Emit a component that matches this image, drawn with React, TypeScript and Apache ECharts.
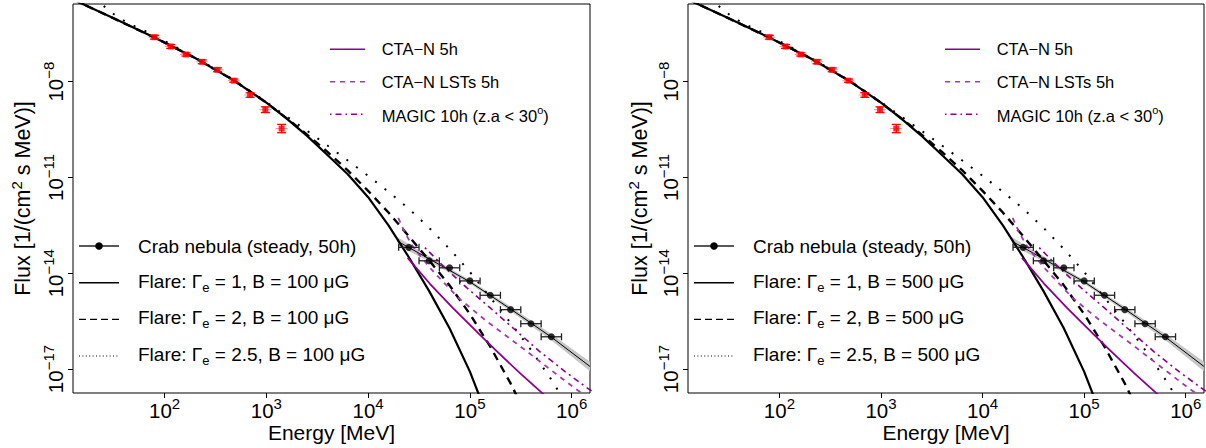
import React, { useEffect, useRef } from "react";
import * as echarts from "echarts";

const FONT = "'Liberation Sans', Arial, Helvetica, sans-serif";

// Axes are log10(E / MeV) and log10(flux)
const xTickExps = [2, 3, 4, 5, 6];
const yTickExps = [-17, -14, -11, -8];
const panelB = ["100", "500"];

// Fermi-LAT points (red)
const fermiLogE = [1.90, 2.06, 2.21, 2.37, 2.52, 2.68, 2.84, 2.99, 3.15];
const fermiLogF = [-6.61, -6.90, -7.15, -7.38, -7.63, -7.97, -8.42, -8.88, -9.47];
const fermiErr = [0.06, 0.06, 0.05, 0.06, 0.06, 0.05, 0.07, 0.09, 0.13];

// Crab nebula (steady, 50h)
const crabLogE = [4.4, 4.6, 4.8, 5.0, 5.2, 5.4, 5.6, 5.8];
const crabLogF = [-13.19, -13.61, -13.83, -14.24, -14.69, -15.14, -15.58, -15.99];
const crabBinHalf = [0.1, 0.1, 0.1, 0.1, 0.1, 0.1, 0.1, 0.1];

// Crab spectrum line with uncertainty band
const bandLogE = [4.29, 4.6, 5.0, 5.4, 5.8, 6.18];
const bandLogF = [-13.0, -13.55, -14.27, -15.12, -16.0, -16.92];
const bandHalf = [0.13, 0.08, 0.06, 0.07, 0.1, 0.15];

// Flare: Gamma_e = 1 (solid)
const flare1LogE = [1.10, 1.20, 1.50, 1.90, 2.30, 2.68, 3.00, 3.20, 3.40, 3.60, 3.80, 4.00, 4.20, 4.40, 4.60, 4.80, 5.00, 5.10];
const flare1LogF = [-5.43, -5.575, -6.02, -6.62, -7.26, -7.96, -8.66, -9.16, -9.70, -10.30, -10.90, -11.62, -12.50, -13.50, -14.56, -15.72, -17.08, -17.90];

// Flare: Gamma_e = 2 (dashed)
const flare2LogE = [1.10, 1.20, 1.50, 1.90, 2.30, 2.68, 3.00, 3.20, 3.40, 3.60, 3.80, 4.00, 4.20, 4.40, 4.60, 4.80, 5.00, 5.20, 5.40, 5.50];
const flare2LogF = [-5.43, -5.575, -6.02, -6.62, -7.26, -7.96, -8.66, -9.15, -9.66, -10.20, -10.78, -11.42, -12.10, -12.84, -13.60, -14.38, -15.28, -16.30, -17.45, -18.10];

// Flare: Gamma_e = 2.5 (dotted)
const flare25LogE = [1.30, 1.367, 1.41, 1.51, 1.64, 1.787, 2.0, 2.30, 2.68, 3.00, 3.15, 3.40, 3.60, 3.80, 4.00, 4.20, 4.40, 4.60, 4.80, 5.00, 5.20, 5.40, 5.60, 5.80, 5.95];
const flare25LogF = [-5.44, -5.569, -5.653, -5.913, -6.173, -6.382, -6.73, -7.24, -7.95, -8.64, -8.98, -9.54, -10.00, -10.47, -10.95, -11.45, -11.98, -12.58, -13.24, -13.96, -14.76, -15.55, -16.40, -17.33, -18.10];

// Sensitivities
const ctaLogE = [4.388, 4.607, 4.836, 5.099, 5.263, 5.492, 5.705, 5.80];
const ctaLogF = [-13.52, -14.33, -15.10, -15.93, -16.44, -17.13, -17.74, -18.0];
const lstsLogE = [4.296, 4.362, 4.428, 4.509, 4.624, 4.886, 5.148, 5.475, 5.804, 6.030, 6.20];
const lstsLogF = [-12.27, -12.73, -13.11, -13.45, -13.89, -14.77, -15.46, -16.24, -17.05, -17.60, -17.98];
const magicLogE = [4.558, 4.755, 4.971, 5.197, 5.443, 5.689, 5.935, 6.147, 6.28];
const magicLogF = [-13.20, -13.83, -14.46, -15.08, -15.77, -16.46, -17.08, -17.58, -17.87];

const PURPLE = "#8b008b";
const PURPLE2 = "#a43ab0";

const pairs = (xs: number[], ys: number[]) => xs.map((x, i) => [x, ys[i]]);

const supRich = (base: number, sup: number, lh: number) => ({
  b: { fontSize: base, fontFamily: FONT, color: "#000", lineHeight: lh, verticalAlign: "bottom" },
  s: { fontSize: sup, fontFamily: FONT, color: "#000", lineHeight: 8, verticalAlign: "top" },
});

function buildOption() {
  const grids = [
    { left: 73, top: 4, width: 517, height: 389 },
    { left: 688, top: 4, width: 516, height: 389 },
  ];
  const xAxes: any[] = [];
  const yAxes: any[] = [];
  const series: any[] = [];
  const graphic: any[] = [];

  grids.forEach((g, gi) => {
    xAxes.push({
      type: "value", gridIndex: gi, min: 1.10, max: 6.18,
      axisLine: { show: false }, splitLine: { show: false },
      axisTick: { show: true, inside: false, length: 5, customValues: xTickExps, lineStyle: { color: "#000", width: 1 } },
      axisLabel: {
        show: true, customValues: xTickExps, margin: 3,
        formatter: (v: number) => `{b|10}{s|${v}}`,
        rich: supRich(20.5, 15, 25),
      },
    });
    yAxes.push({
      type: "value", gridIndex: gi, min: -17.75, max: -5.57,
      axisLine: { show: false }, splitLine: { show: false },
      axisTick: { show: true, inside: false, length: 5, customValues: yTickExps, lineStyle: { color: "#000", width: 1 } },
      axisLabel: {
        show: true, customValues: yTickExps, margin: 7, rotate: 90,
        formatter: (v: number) => `{b|10}{s|\u2212${Math.abs(v)}}`,
        rich: supRich(20.5, 15, 25),
      },
    });

    const ax = { xAxisIndex: gi, yAxisIndex: gi };
    const lineS = (data: number[][], color: string, width: number, type: any, z: number) => ({
      type: "line", ...ax, data, symbol: "none", clip: true, z,
      lineStyle: { color, width, type, cap: "butt", join: "round" },
      silent: true,
    });

    series.push({
      type: "custom", ...ax, z: 1, silent: true,
      data: bandLogE.map((e, i) => [e, bandLogF[i], bandHalf[i]]),
      renderItem: (params: any, api: any) => {
        if (params.dataIndex !== 0) return null;
        const pts: number[][] = [];
        for (let i = 0; i < bandLogE.length; i++) pts.push(api.coord([bandLogE[i], bandLogF[i] + bandHalf[i]]));
        for (let i = bandLogE.length - 1; i >= 0; i--) pts.push(api.coord([bandLogE[i], bandLogF[i] - bandHalf[i]]));
        return { type: "polygon", shape: { points: pts }, style: { fill: "#c6c6c6" } };
      },
    });
    series.push(lineS(pairs(bandLogE, bandLogF), "#000", 1, "solid", 2));
    series.push(lineS(pairs(flare1LogE, flare1LogF), "#000", 2.2, "solid", 3));
    series.push(lineS(pairs(flare2LogE, flare2LogF), "#000", 2.4, [8, 6], 3));
    series.push(lineS(pairs(flare25LogE, flare25LogF), "#000", 2, [2, 10], 3));
    series.push(lineS(pairs(ctaLogE, ctaLogF), PURPLE, 1.8, "solid", 3));
    series.push(lineS(pairs(lstsLogE, lstsLogF), PURPLE2, 1.8, [5, 5], 3));
    series.push(lineS(pairs(magicLogE, magicLogF), PURPLE, 1.6, [2, 4, 6, 4], 3));

    series.push({
      type: "custom", ...ax, z: 4, silent: true,
      data: crabLogE.map((e, i) => [e, crabLogF[i], crabBinHalf[i]]),
      renderItem: (params: any, api: any) => {
        const x = api.value(0), y = api.value(1), h = api.value(2);
        const a = api.coord([x - h, y]);
        const b = api.coord([x + h, y]);
        const st = { stroke: "#222", lineWidth: 1.3 };
        return {
          type: "group", children: [
            { type: "line", shape: { x1: a[0], y1: a[1], x2: b[0], y2: b[1] }, style: st },
            { type: "line", shape: { x1: a[0], y1: a[1] - 3.5, x2: a[0], y2: a[1] + 3.5 }, style: st },
            { type: "line", shape: { x1: b[0], y1: b[1] - 3.5, x2: b[0], y2: b[1] + 3.5 }, style: st },
          ],
        };
      },
    });
    series.push({
      type: "scatter", ...ax, z: 5, silent: true, symbol: "circle", symbolSize: 7,
      itemStyle: { color: "#000" }, data: pairs(crabLogE, crabLogF),
    });
    series.push({
      type: "custom", ...ax, z: 4, silent: true,
      data: fermiLogE.map((e, i) => [e, fermiLogF[i], fermiErr[i]]),
      renderItem: (params: any, api: any) => {
        const x = api.value(0), y = api.value(1), er = api.value(2);
        const t = api.coord([x, y + er]);
        const b = api.coord([x, y - er]);
        const c = api.coord([x, y]);
        const st = { stroke: "#ff0000", lineWidth: 1.3 };
        const w = 4.5;
        return {
          type: "group", children: [
            { type: "line", shape: { x1: c[0] - 6, y1: c[1], x2: c[0] + 6, y2: c[1] }, style: { stroke: "rgba(255,0,0,0.45)", lineWidth: 1 } },
            { type: "line", shape: { x1: t[0], y1: t[1], x2: b[0], y2: b[1] }, style: st },
            { type: "line", shape: { x1: t[0] - w, y1: t[1], x2: t[0] + w, y2: t[1] }, style: st },
            { type: "line", shape: { x1: b[0] - w, y1: b[1], x2: b[0] + w, y2: b[1] }, style: st },
          ],
        };
      },
    });
    series.push({
      type: "scatter", ...ax, z: 5, silent: true, symbol: "rect", symbolSize: 6,
      itemStyle: { color: "#ff0000" }, data: pairs(fermiLogE, fermiLogF),
    });

    // Legends and titles
    const dx = gi === 0 ? 0 : 615;
    const lx1 = 79 + dx, lx2 = 119 + dx, tx = 138 + dx;
    const rows = [246, 282.7, 319.3, 356];
    const subRich = {
      n: { fontSize: 19, fontFamily: FONT, color: "#000", lineHeight: 22, verticalAlign: "top" },
      e: { fontSize: 13, fontFamily: FONT, color: "#000", lineHeight: 12, verticalAlign: "bottom" },
    };
    graphic.push(
      { type: "line", shape: { x1: lx1, y1: rows[0], x2: lx2, y2: rows[0] }, style: { stroke: "#222", lineWidth: 1.5 } },
      { type: "circle", shape: { cx: (lx1 + lx2) / 2, cy: rows[0], r: 3.8 }, style: { fill: "#000" } },
      { type: "text", x: tx, y: rows[0], style: { text: "Crab nebula (steady, 50h)", fill: "#000", fontSize: 19, fontFamily: FONT, align: "left", verticalAlign: "middle" } },
      { type: "line", shape: { x1: lx1, y1: rows[1], x2: lx2, y2: rows[1] }, style: { stroke: "#000", lineWidth: 1.4 } },
      { type: "line", shape: { x1: lx1, y1: rows[2], x2: lx2, y2: rows[2] }, style: { stroke: "#000", lineWidth: 1.2, lineDash: [7, 4] } },
      { type: "line", shape: { x1: lx1, y1: rows[3], x2: lx2, y2: rows[3] }, style: { stroke: "#000", lineWidth: 1.1, lineDash: [1, 2.4] } },
    );
    const gammas = ["1", "2", "2.5"];
    gammas.forEach((gm, k) => {
      graphic.push({
        type: "text", x: tx, y: rows[k + 1],
        style: {
          text: `{n|Flare: \u0393}{e|e}{n| = ${gm}, B = ${panelB[gi]} \u03bcG}`,
          rich: subRich, align: "left", verticalAlign: "middle",
        },
      });
    });

    const urows = [49.3, 81.7, 114.3];
    const ux1 = 330 + dx, ux2 = 365 + dx, utx = 381.7 + dx;
    const uRich = {
      n: { fontSize: 16.5, fontFamily: FONT, color: "#000", lineHeight: 20, verticalAlign: "bottom" },
      s: { fontSize: 11, fontFamily: FONT, color: "#000", lineHeight: 10, verticalAlign: "top" },
    };
    graphic.push(
      { type: "line", shape: { x1: ux1, y1: urows[0], x2: ux2, y2: urows[0] }, style: { stroke: PURPLE, lineWidth: 1.6 } },
      { type: "line", shape: { x1: ux1, y1: urows[1], x2: ux2, y2: urows[1] }, style: { stroke: PURPLE2, lineWidth: 1.6, lineDash: [5, 5] } },
      { type: "line", shape: { x1: ux1, y1: urows[2], x2: ux2, y2: urows[2] }, style: { stroke: PURPLE, lineWidth: 1.5, lineDash: [1.5, 4, 6, 4] } },
      { type: "text", x: utx, y: urows[0], style: { text: "CTA\u2212N 5h", fill: "#000", fontSize: 16.5, fontFamily: FONT, align: "left", verticalAlign: "middle" } },
      { type: "text", x: utx, y: urows[1], style: { text: "CTA\u2212N LSTs 5h", fill: "#000", fontSize: 16.5, fontFamily: FONT, align: "left", verticalAlign: "middle" } },
      { type: "text", x: utx, y: urows[2], style: { text: "{n|MAGIC 10h (z.a < 30}{s|o}{n|)}", rich: uRich, align: "left", verticalAlign: "middle" } },
    );

    graphic.push(
      { type: "text", x: g.left + g.width / 2, y: 432, style: { text: "Energy [MeV]", fill: "#000", fontSize: 21, fontFamily: FONT, align: "center", verticalAlign: "middle" } },
      {
        type: "text", x: gi === 0 ? 21 : 638, y: g.top + g.height / 2, rotation: Math.PI / 2,
        style: { text: "{b|Flux [1/(cm}{s|2}{b| s MeV)]}", rich: supRich(21.5, 15, 25), align: "center", verticalAlign: "middle" },
      },
    );
  });

  return {
    animation: false,
    backgroundColor: "#fff",
    grid: grids.map((g) => ({ ...g, show: true, borderColor: "#000", borderWidth: 1, backgroundColor: "transparent" })),
    xAxis: xAxes,
    yAxis: yAxes,
    series,
    graphic,
  };
}

export default function App() {
  const ref = useRef<HTMLDivElement>(null);
  useEffect(() => {
    const chart = echarts.init(ref.current!, null, { renderer: "svg" });
    chart.setOption(buildOption() as any);
    return () => chart.dispose();
  }, []);
  return (
    <div
      ref={ref}
      style={{ position: "absolute", left: 0, top: 0, width: 1206, height: 448, background: "#fff" }}
    />
  );
}
